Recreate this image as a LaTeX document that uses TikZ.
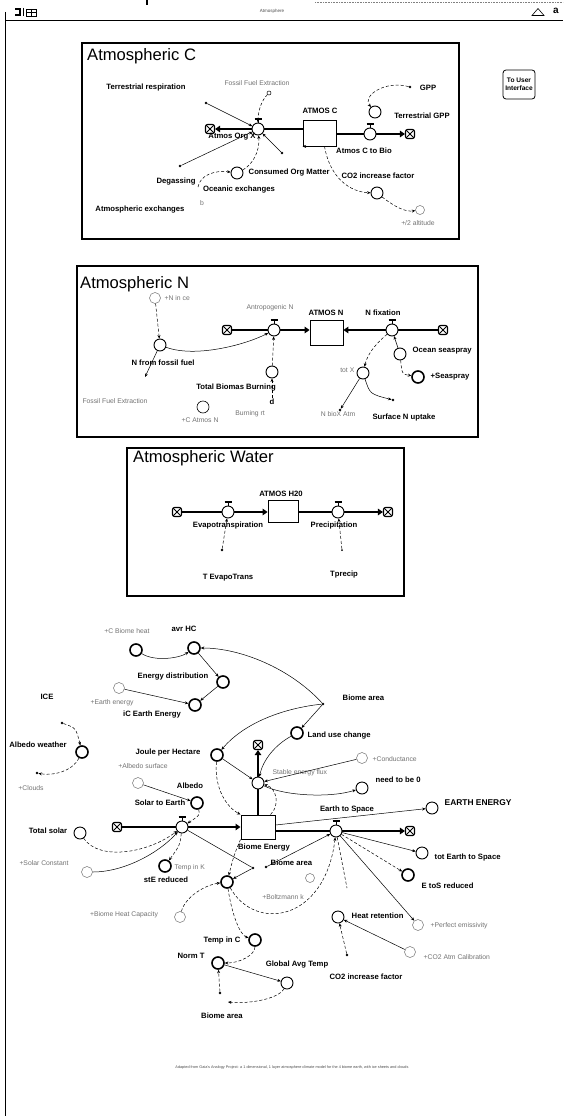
\documentclass[tikz,border=0pt]{standalone}
\usepackage{fontspec}
\setmainfont{Liberation Sans}
\usetikzlibrary{arrows.meta}

% valve handle drawn above a flow regulator
\newcommand\valveT[1]{%
  \draw[line width=0.7pt] (#1.north) -- ([yshift=3.5pt]#1.north);
  \draw[line width=1.7pt] ([xshift=-3.5pt,yshift=3.5pt]#1.north) -- ([xshift=3.5pt,yshift=3.5pt]#1.north);}

\begin{document}
\begin{tikzpicture}[x=1pt,y=-1pt,
  lab/.style={font=\bfseries\fontsize{7.7}{8}\selectfont, inner sep=0.5pt},
  glab/.style={font=\fontsize{6.8}{8}\selectfont, text=black!55, inner sep=0.5pt},
  ttl/.style={font=\fontsize{16.6}{18}\selectfont, anchor=west, inner sep=0},
  conv/.style={circle, draw, line width=0.9pt, minimum size=12pt, inner sep=0, fill=white},
  hconv/.style={conv, line width=1.6pt},
  gconv/.style={circle, draw=black!55, line width=0.5pt, minimum size=11pt, inner sep=0, fill=white},
  valve/.style={circle, draw, line width=0.9pt, minimum size=12pt, inner sep=0, fill=white},
  stockbox/.style={draw, line width=0.8pt, inner sep=0, fill=white},
  cloudbox/.style={draw, line width=1.1pt, rounded corners=2pt, minimum size=9pt, inner sep=0, fill=white,
    path picture={\draw[line width=0.9pt] (path picture bounding box.north west) -- (path picture bounding box.south east)
      (path picture bounding box.north east) -- (path picture bounding box.south west);}},
  pipe/.style={line width=2.2pt, -{Triangle[length=5pt,width=6.5pt]}},
  conn/.style={line width=0.5pt, -{Stealth[length=3.5pt,width=3pt]}},
  dconn/.style={conn, densely dashed},
  dotn/.style={circle, fill, inner sep=0, minimum size=2.6pt},
  odot/.style={circle, draw, line width=0.5pt, inner sep=0, minimum size=4pt},
  boxframe/.style={draw, line width=1.1pt}
]
\useasboundingbox (0,0) rectangle (563,1116);
\fill[white] (0,0) rectangle (563,1116);

% ---------- window strip ----------
\draw[line width=0.9pt] (5,20) -- (563,20);
\draw[line width=0.6pt] (5,12) -- (5,1116);
\draw[black!50, densely dotted, line width=0.6pt] (315,2) -- (563,2);
\draw[line width=1.2pt] (147,0) -- (147,5);
\draw[line width=1.6pt] (15,9) -- (20,9) -- (20,15) -- (15,15);
\draw[line width=0.5pt] (23,8) -- (23,16);
\draw[line width=0.6pt] (26,9) rectangle (36,16);
\draw[line width=0.4pt] (31,9) -- (31,16) (26,12.5) -- (36,12.5);
\node[font=\fontsize{4.5}{5}\selectfont, text=black!70] (wtitle) at (272,11) {Atmosphere};
\draw[line width=0.6pt] (532,15.5) -- (538,8.5) -- (544,15.5) -- cycle;
\node[font=\bfseries\fontsize{10}{10}\selectfont] (wa) at (556,11) {a};

% ---------- Atmospheric C ----------
\draw[boxframe] (82,43) rectangle (459,239);
\node[ttl] (tC) at (87,56) {Atmospheric C};

\node[stockbox, minimum width=33pt, minimum height=26pt] (atc) at (319.5,133) {};
\node[cloudbox] (c1) at (210,129) {};
\node[cloudbox] (c2) at (410,134) {};
\draw[pipe] (atc.west |- c1) -- (c1);
\draw[pipe] (atc.east |- c2) -- (c2);
\node[valve] (v1) at (258,129) {}; \valveT{v1}
\node[valve] (v2) at (370,134) {}; \valveT{v2}
\draw[conn] (atc.south east) -- (atc.south west);

\node[glab] (ffe) at (257,83) {Fossil Fuel Extraction};
\node[lab] (trl) at (146,88) {Terrestrial respiration};
\node[lab] (gppl) at (428,88) {GPP};
\node[lab] (atcl) at (320,111) {ATMOS C};
\node[lab] (tgppl) at (422,116) {Terrestrial GPP};
\node[lab] (aoxl) at (232,137) {Atmos Org X};
\node[lab] (actbl) at (364,151) {Atmos C to Bio};
\node[lab, anchor=west] (coml) at (248,173) {Consumed Org Matter};
\node[lab] (degl) at (176,182) {Degassing};
\node[lab] (ocel) at (239,190) {Oceanic exchanges};
\node[glab] (bl) at (202,203) {b};
\node[lab] (atel) at (140,210) {Atmospheric exchanges};
\node[lab] (co2l) at (378,176) {CO2 increase factor};
\node[glab] (altl) at (418,223) {+/2 altitude};

\node[conv] (tgpp) at (375,112) {};
\node[dotn] (gppd) at (410,87) {};
\node[odot] (orgc) at (269,93) {};
\node[dotn] (trd) at (206,103) {};
\node[dotn] (d1) at (282,153) {};
\node[dotn] (d2) at (180,166) {};
\node[conv] (com) at (237,173) {};
\coordinate (dgd) at (198,187);
\node[conv] (co2f) at (377,193) {};
\node[gconv, minimum size=9pt] (alt) at (420,210) {};

\draw[dconn] (gppd) .. controls (385,80) and (362,96) .. (tgpp);
\draw[conn] (trd) -- (v1);
\draw[dconn] (orgc) .. controls (262,100) and (258,110) .. (v1);
\draw[conn] (d1) -- (v1);
\draw[conn] (d2) -- (v1);
\draw[dconn] (com) .. controls (252,165) and (260,152) .. (v1);
\draw[dconn] (dgd) .. controls (200,175) and (215,170) .. (com);
\draw[dconn] ([xshift=5pt]atc.south) .. controls (330,178) and (350,192) .. (co2f);
\draw[dconn] (co2f) .. controls (395,207) and (405,212) .. (alt);

% user interface button
\node[draw, line width=0.8pt, rounded corners=3pt, minimum width=32pt, minimum height=29pt, align=center,
  font=\bfseries\fontsize{6.6}{8}\selectfont, inner sep=1pt] (tui) at (519,84.5) {To User\\Interface};

% ---------- Atmospheric N ----------
\draw[boxframe] (77,266) rectangle (478,437);
\node[ttl] (tN) at (80,284) {Atmospheric N};

\node[stockbox, minimum width=33pt, minimum height=25pt] (atn) at (326.5,332.5) {};
\node[cloudbox] (c3) at (227,330) {};
\node[cloudbox] (c4) at (443,330) {};
\draw[pipe] (c3) -- (atn.west |- c3);
\draw[pipe] (c4) -- (atn.east |- c4);
\node[valve] (v3) at (274,330) {}; \valveT{v3}
\node[valve] (v4) at (392,330) {}; \valveT{v4}

\node[gconv] (nin) at (155,298) {};
\node[glab, anchor=west] (ninl) at (164,298) {+N in ce};
\node[glab] (antl) at (270,308) {Antropogenic N};
\node[lab] (atnl) at (326,313) {ATMOS N};
\node[lab] (nfixl) at (383,313) {N fixation};
\node[conv] (nff) at (160,345) {};
\node[lab] (nffl) at (163,363) {N from fossil fuel};
\coordinate (nffd) at (145,377);
\node[conv] (tbb) at (272,372) {};
\node[lab] (tbbl) at (236,388) {Total Biomas Burning};
\node[lab] (dl) at (272,402) {d};
\node[conv] (osc) at (400,354) {};
\node[lab, anchor=west] (oscl) at (412,351) {Ocean seaspray};
\node[hconv] (sspr) at (418,377) {};
\node[lab, anchor=west] (ssprl) at (430,377) {+Seaspray};
\node[conv] (totx) at (363,373) {};
\node[glab, anchor=east] (totxl) at (355,370) {tot X};
\node[dotn] (txd1) at (340,410) {};
\node[dotn] (txd2) at (393,400) {};
\node[glab] (ffel) at (115,401) {Fossil Fuel Extraction};
\node[conv, line width=0.6pt] (catn) at (203,407) {};
\node[glab] (catnl) at (200,420) {+C Atmos N};
\node[glab] (brl) at (250,414) {Burning rt};
\node[glab] (nbxl) at (338,414) {N bioX Atm};
\node[lab] (snul) at (404,418) {Surface N uptake};

\draw[dconn] (nin) -- (nff);
\draw[conn] (nff) -- (nffd);
\draw[conn] (nff) .. controls (195,358) and (245,345) .. (v3);
\draw[dconn] (tbb) -- (v3);
\draw[dconn] (dl) -- (tbb);
\draw[conn] (osc) -- (v4);
\draw[dconn] (osc) .. controls (402,374) .. (sspr);
\draw[dconn] (v4) .. controls (378,342) and (368,352) .. (totx);
\draw[conn] (totx) -- (txd1);
\draw[conn] (totx) .. controls (370,394) .. (txd2);

% ---------- Atmospheric Water ----------
\draw[boxframe] (127,448) rectangle (404,596);
\node[ttl] (tW) at (133,458) {Atmospheric Water};

\node[stockbox, minimum width=30pt, minimum height=22pt] (ath) at (283,511) {};
\node[cloudbox] (c5) at (177,512) {};
\node[cloudbox] (c6) at (388,512) {};
\draw[pipe] (c5) -- (ath.west |- c5);
\draw[pipe] (ath.east |- c6) -- (c6);
\node[valve] (v5) at (228,512) {}; \valveT{v5}
\node[valve] (v6) at (338,512) {}; \valveT{v6}

\node[lab] (athl) at (281,494) {ATMOS H20};
\node[lab] (evl) at (228,526) {Evapotranspiration};
\node[lab] (prl) at (334,526) {Precipitation};
\node[dotn] (ted) at (222,550) {};
\node[dotn, minimum size=2pt] (tpd) at (342,550) {};
\node[lab] (tevl) at (228,578) {T EvapoTrans};
\node[lab] (tprl) at (344,575) {Tprecip};
\draw[dconn] (ted) -- (v5);
\draw[dconn] (tpd) -- (v6);

% ---------- biome energy sector ----------
\node[glab] (cbhl) at (127,631) {+C Biome heat};
\node[lab] (avhl) at (184,629) {avr HC};
\node[hconv] (cbh) at (136,650) {};
\node[hconv] (avh) at (194,648) {};
\node[lab] (edl) at (173,677) {Energy distribution};
\node[hconv] (edc) at (223,682) {};
\node[gconv] (eec) at (119,688) {};
\node[glab] (eecl) at (112,703) {+Earth energy};
\node[hconv] (iee) at (195,705) {};
\node[lab] (ieel) at (152,715) {iC Earth Energy};
\node[lab] (icel) at (47,697) {ICE};

\draw[conn] (cbh) .. controls (155,662) and (180,658) .. (avh);
\draw[conn] (avh) -- (edc);
\draw[conn] (eec) -- (iee);
\draw[conn] (edc) -- (iee);

\node[dotn] (bad) at (323,704) {};
\node[lab, anchor=west] (badl) at (342,698) {Biome area};
\node[hconv] (luc) at (297,733) {};
\node[lab, anchor=west] (lucl) at (307,736) {Land use change};
\node[hconv] (jph) at (217,755) {};
\node[lab] (jphl) at (168,752) {Joule per Hectare};
\node[glab] (albsl) at (143,766) {+Albedo surface};

\draw[conn] (bad) .. controls (290,668) and (240,648) .. (avh);
\draw[conn] (bad) .. controls (285,708) and (245,722) .. (jph);
\draw[conn] (bad) -- (luc);

% Biome Energy stock and its flows
\node[stockbox, line width=1pt, minimum width=34pt, minimum height=24pt] (be) at (258,827) {};
\node[cloudbox] (c7) at (258,745) {};
\node[cloudbox] (c8) at (117,827) {};
\node[cloudbox] (c9) at (410,831) {};
\draw[pipe] (be.north) -- (c7);
\draw[pipe] (c8) -- (be.west |- c8);
\draw[pipe] (be.east |- c9) -- (c9);
\node[valve] (v7) at (258,783) {};
\node[valve] (v8) at (182,827) {}; \valveT{v8}
\node[valve] (v9) at (336,831) {}; \valveT{v9}

\node[lab] (bel) at (264,848) {Biome Energy};
\node[glab, anchor=west] (sefl) at (272,773) {Stable energy flux};
\node[gconv] (cond) at (362,758) {};
\node[glab, anchor=west] (condl) at (372,759) {+Conductance};
\node[conv] (nb0) at (362,788) {};
\node[lab, anchor=west] (nb0l) at (375,780) {need to be 0};

\draw[conn] (cond) -- (v7);
\draw[conn] (v7) .. controls (285,796) and (330,798) .. (nb0);
\draw[conn] (jph) -- (v7);
\draw[conn] (luc) .. controls (275,745) and (263,760) .. (v7);
\draw[dconn] ([xshift=-5pt]be.north east) .. controls (280,806) and (277,788) .. (v7);
\draw[dconn] (jph) .. controls (214,790) and (228,808) .. (be.north west);

% solar input
\node[gconv] (albs) at (138,783) {};
\node[lab] (albl) at (190,786) {Albedo};
\node[hconv] (ste) at (197,803) {};
\node[lab] (stel) at (160,803) {Solar to Earth};
\node[lab] (tsoll) at (48,831) {Total solar};
\node[conv] (tsol) at (80,833) {};
\node[gconv] (scn) at (87,872) {};
\node[glab] (scnl) at (44,863) {+Solar Constant};
\node[hconv] (tik) at (165,866) {};
\node[glab, anchor=west] (tikl) at (174,868) {Temp in K};
\node[lab] (stel2) at (166,880) {stE reduced};

\draw[conn] (albs) -- (ste);
\draw[dconn] (ste) .. controls (200,815) .. (v8);
\draw[dconn] (tsol) .. controls (100,862) and (150,852) .. (v8);
\draw[conn] (scn) .. controls (125,872) and (160,852) .. (v8);
\draw[dconn] (v8) .. controls (180,845) .. (tik);

% temperature chain
\node[dotn] (bkd) at (253,868) {};
\node[hconv] (tcalc) at (227,882) {};
\node[dotn] (bam) at (266,867) {};
\node[lab, anchor=west] (baml) at (270,863) {Biome area};
\node[gconv, minimum size=9pt] (gh1) at (310,878) {};
\node[glab] (bzl) at (283,897) {+Boltzmann k};
\node[gconv] (bhc) at (180,917) {};
\node[glab] (bhcl) at (124,915) {+Biome Heat Capacity};
\node[hconv] (tic) at (255,940) {};
\node[lab] (ticl) at (222,940) {Temp in C};
\node[lab] (ntl) at (191,956) {Norm T};
\node[hconv] (nt) at (218,963) {};
\node[lab] (gatl) at (297,965) {Global Avg Temp};
\node[conv] (gat) at (287,983) {};
\node[dotn] (ntd) at (220,993) {};
\coordinate (bab) at (228,1002);
\node[lab] (babl) at (222,1016) {Biome area};

\draw[line width=0.5pt] (v8) -- (bkd);
\draw[conn] (bkd) -- (tcalc);
\draw[conn] (bam) -- (v9);
\draw[dconn] (be.south west) .. controls (234,855) .. (tcalc);
\draw[dconn] (bhc) .. controls (185,897) and (205,885) .. (tcalc);
\draw[dconn] (tcalc) .. controls (255,932) and (325,922) .. (v9);
\draw[dconn] (tcalc) .. controls (232,915) and (240,935) .. (tic);
\draw[dconn] (tic) .. controls (255,955) and (240,963) .. (nt);
\draw[conn] (nt) -- (gat);
\draw[dconn] (ntd) -- (nt);
\draw[dconn] (gat) .. controls (278,1000) and (245,1004) .. (bab);

% radiation to space
\node[lab] (e2sl) at (347,809) {Earth to Space};
\node[conv] (een) at (432,808) {};
\node[lab, anchor=west, font=\bfseries\fontsize{8.4}{9}\selectfont] (eenl) at (444,803) {EARTH ENERGY};
\node[conv] (tes) at (422,853) {};
\node[lab, anchor=west] (tesl) at (434,857) {tot Earth to Space};
\node[hconv] (etr) at (408,875) {};
\node[lab, anchor=west] (etrl) at (421,886) {E toS reduced};
\coordinate (v9d) at (347,888);
\node[conv] (hr) at (338,917) {};
\node[lab, anchor=west] (hrl) at (351,916) {Heat retention};
\node[dotn] (hrd) at (347,955) {};
\node[lab] (co2b) at (366,977) {CO2 increase factor};
\node[gconv] (cac) at (410,952) {};
\node[glab, anchor=west] (cacl) at (423,957) {+CO2 Atm Calibration};
\node[gconv] (pem) at (418,925) {};
\node[glab, anchor=west] (peml) at (430,926) {+Perfect emissivity};

\draw[conn] ([yshift=2pt]be.east) -- (een);
\draw[conn] (v9) -- (tes);
\draw[dconn] (v9) -- (etr);
\draw[densely dashed, line width=0.5pt] (v9) -- (v9d);
\draw[conn] (v9) -- (pem);
\draw[dconn] (hrd) -- (hr);
\draw[conn] (cac) -- (hr);

% albedo weather
\node[lab] (awl) at (38,745) {Albedo weather};
\node[hconv] (aw) at (82,752) {};
\node[dotn] (awd) at (62,723) {};
\node[dotn] (cld) at (37,773) {};
\node[glab] (cldl) at (31,788) {+Clouds};
\draw[dconn] (awd) .. controls (76,728) .. (aw);
\draw[dconn] (aw) .. controls (72,772) and (52,776) .. (cld);

% source note
\node[font=\fontsize{3.8}{4}\selectfont, text=black!70] (note) at (292,1068)
  {Adapted from Gaia's Analogy Project: a 1 dimensional, 1 layer atmosphere climate model for the 4 biome earth, with ice sheets and clouds};
\end{tikzpicture}
\end{document}
